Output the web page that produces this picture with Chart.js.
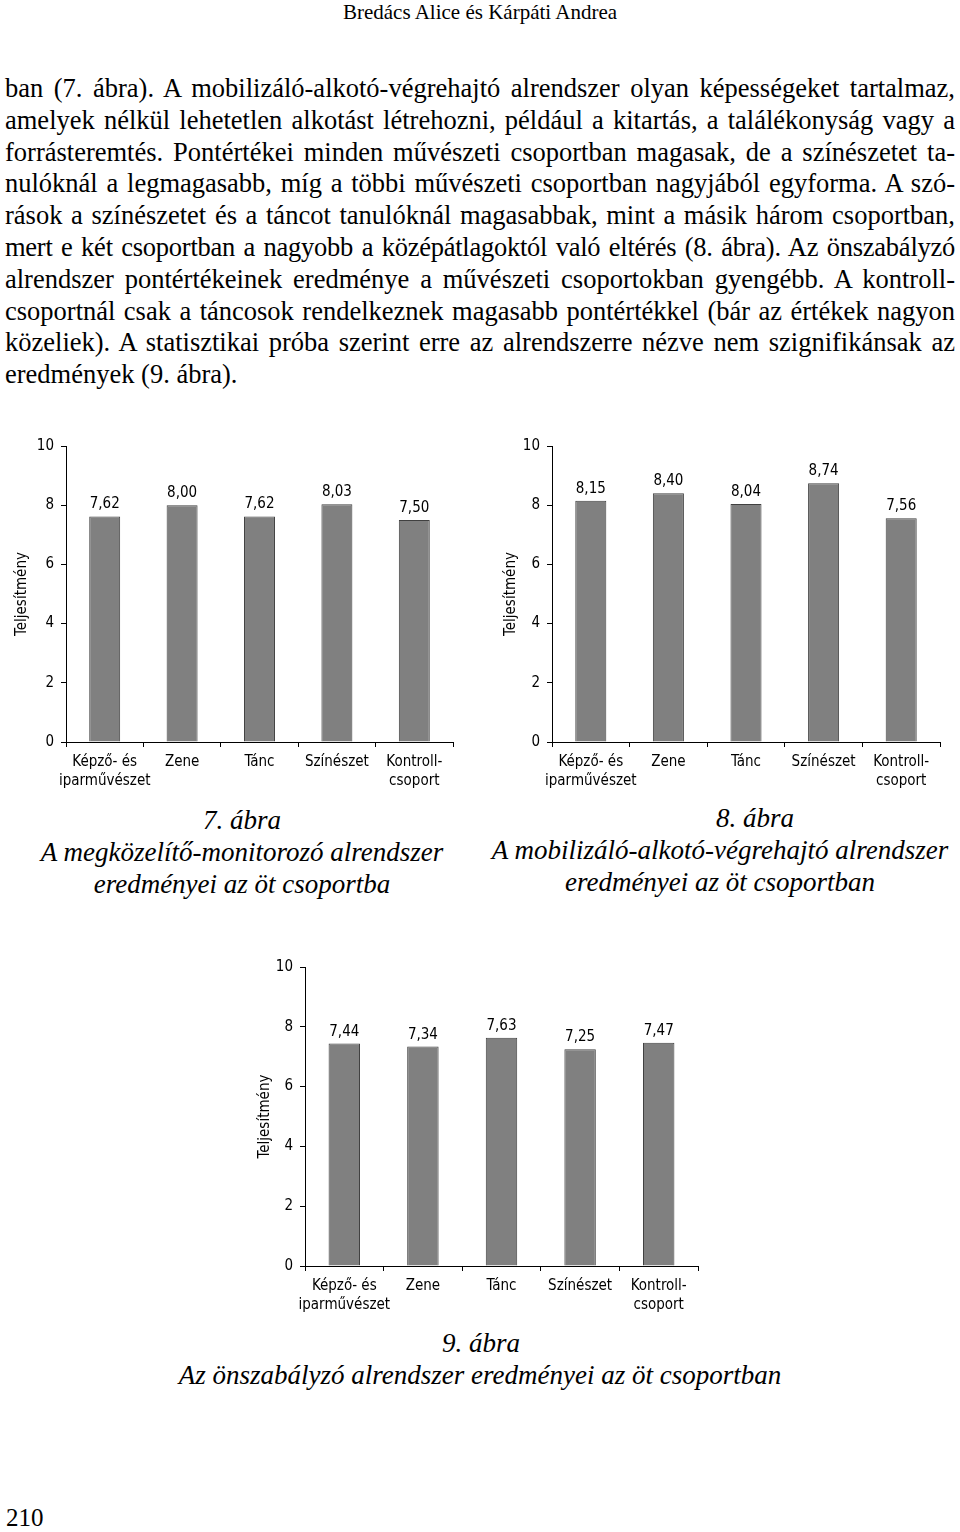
<!DOCTYPE html>
<html>
<head>
<meta charset="utf-8">
<script src="https://cdn.jsdelivr.net/npm/chart.js@4.4.0/dist/chart.umd.min.js"></script>
<style>
  body { margin: 0; background: #fff; }
  #page { position: relative; width: 960px; height: 1532px; overflow: hidden; font-family: "Liberation Serif", "Times New Roman", serif; color: #000; }
  .abs { position: absolute; }
  #header { left: 0; width: 960px; top: 0; text-align: center; font-size: 21px; line-height: 24px; }
  #body { left: 5px; width: 950px; top: 73px; font-size: 26.5px; line-height: 31.8px; }
  #body div { text-align: justify; text-align-last: justify; white-space: nowrap; }
  #body div.tight { letter-spacing: -0.25px; }
  #body div.last { text-align: left; text-align-last: left; }
  .cap { font-style: italic; font-size: 27px; line-height: 32px; text-align: center; white-space: nowrap; }
  .box { position: absolute; width: 480px; height: 370px; }
  #pagenum { left: 6px; top: 1504px; font-size: 25px; }
</style>
</head>
<body>
<div id="page">
  <div id="header" class="abs">Bredács Alice és Kárpáti Andrea</div>
  <div id="body" class="abs">
    <div>ban (7. ábra). A mobilizáló-alkotó-végrehajtó alrendszer olyan képességeket tartalmaz,</div>
    <div>amelyek nélkül lehetetlen alkotást létrehozni, például a kitartás, a találékonyság vagy a</div>
    <div>forrásteremtés. Pontértékei minden művészeti csoportban magasak, de a színészetet ta-</div>
    <div>nulóknál a legmagasabb, míg a többi művészeti csoportban nagyjából egyforma. A szó-</div>
    <div>rások a színészetet és a táncot tanulóknál magasabbak, mint a másik három csoportban,</div>
    <div class="tight">mert e két csoportban a nagyobb a középátlagoktól való eltérés (8. ábra). Az önszabályzó</div>
    <div>alrendszer pontértékeinek eredménye a művészeti csoportokban gyengébb. A kontroll-</div>
    <div>csoportnál csak a táncosok rendelkeznek magasabb pontértékkel (bár az értékek nagyon</div>
    <div>közeliek). A statisztikai próba szerint erre az alrendszerre nézve nem szignifikánsak az</div>
    <div class="last">eredmények (9. ábra).</div>
  </div>

  <div class="box" style="left:0; top:430px;"><canvas id="chart7"></canvas></div>
  <div class="box" style="left:480px; top:430px;"><canvas id="chart8"></canvas></div>
  <div class="box" style="left:240px; top:950px;"><canvas id="chart9"></canvas></div>

  <div class="abs cap" style="left:142px; width:200px; top:804px;">7. ábra</div>
  <div class="abs cap" style="left:0; width:484px; top:836px;">A megközelítő-monitorozó alrendszer</div>
  <div class="abs cap" style="left:0; width:484px; top:868px;">eredményei az öt csoportba</div>

  <div class="abs cap" style="left:655px; width:200px; top:802px;">8. ábra</div>
  <div class="abs cap" style="left:478px; width:484px; top:834px;">A mobilizáló-alkotó-végrehajtó alrendszer</div>
  <div class="abs cap" style="left:478px; width:484px; top:866px;">eredményei az öt csoportban</div>

  <div class="abs cap" style="left:381px; width:200px; top:1327px;">9. ábra</div>
  <div class="abs cap" style="left:160px; width:640px; top:1359px;">Az önszabályzó alrendszer eredményei az öt csoportban</div>

  <div id="pagenum" class="abs">210</div>
</div>

<script>
// categories shared by the three figures
const groups = [['Képző- és', 'iparművészet'], 'Zene', 'Tánc', 'Színészet', ['Kontroll-', 'csoport']];

// 7. ábra - megközelítő-monitorozó alrendszer
const approachScores = [7.62, 8.00, 7.62, 8.03, 7.50];
// 8. ábra - mobilizáló-alkotó-végrehajtó alrendszer
const mobilizingScores = [8.15, 8.40, 8.04, 8.74, 7.56];
// 9. ábra - önszabályzó alrendszer
const selfRegScores = [7.44, 7.34, 7.63, 7.25, 7.47];

const yTicks = [0, 2, 4, 6, 8, 10];
const yTitle = 'Teljesítmény';

const FONT = "'DejaVu Sans Condensed', 'Liberation Sans', sans-serif";

// value labels above the bars (hungarian decimal comma)
const valueLabels = {
    id: 'valueLabels',
    afterDatasetsDraw(chart) {
        const ctx = chart.ctx;
        const ds = chart.data.datasets[0];
        ctx.save();
        ctx.font = '15px ' + FONT;
        ctx.fillStyle = '#000';
        ctx.textAlign = 'center';
        ctx.textBaseline = 'alphabetic';
        chart.getDatasetMeta(0).data.forEach((bar, i) => {
            ctx.fillText(ds.data[i].toFixed(2).replace('.', ','), bar.x, bar.y - 8);
        });
        ctx.restore();
    }
};

function renderChart(id, data, lay) {
    new Chart(document.getElementById(id), {
        type: 'bar',
        data: {
            labels: groups,
            datasets: [{
                data: data,
                backgroundColor: '#808080',
                borderColor: '#404040',
                borderWidth: 1,
                categoryPercentage: 0.8,
                barPercentage: 0.5
            }]
        },
        options: {
            responsive: true,
            maintainAspectRatio: false,
            animation: false,
            layout: { padding: { left: 0, top: lay.top, right: lay.right, bottom: 0 } },
            plugins: { legend: { display: false }, tooltip: { enabled: false } },
            scales: {
                x: {
                    grid: { offset: true, drawOnChartArea: false, drawTicks: true, tickLength: 5, color: '#000' },
                    border: { display: true, color: '#000', width: 1 },
                    ticks: { color: '#000', padding: 6, maxRotation: 0, autoSkip: false, font: { family: FONT, size: 15, lineHeight: 1.25 } },
                    afterFit: s => { s.height = lay.xh; }
                },
                y: {
                    min: 0, max: 10,
                    afterBuildTicks: s => { s.ticks = yTicks.map(v => ({ value: v })); },
                    grid: { drawOnChartArea: false, drawTicks: true, tickLength: 5, color: '#000' },
                    border: { display: true, color: '#000', width: 1 },
                    ticks: { color: '#000', padding: 7, font: { family: FONT, size: 15 } },
                    title: { display: true, text: yTitle, color: '#000', padding: { top: lay.tp, bottom: 0 }, font: { family: FONT, size: 15 } },
                    afterFit: s => { s.width = lay.yw; }
                }
            }
        },
        plugins: [valueLabels]
    });
}

renderChart('chart7', approachScores, { top: 13, right: 27, xh: 58, yw: 66, tp: 13 });
renderChart('chart8', mobilizingScores, { top: 13, right: 20, xh: 58, yw: 72, tp: 22 });
renderChart('chart9', selfRegScores, { top: 17, right: 22, xh: 54, yw: 65, tp: 16 });
</script>
</body>
</html>
